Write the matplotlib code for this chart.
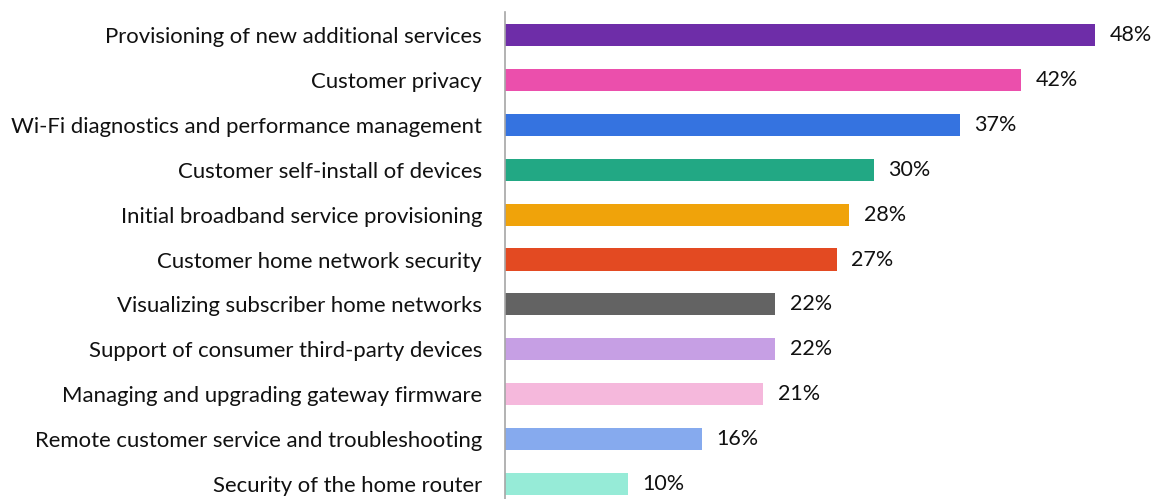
import matplotlib
matplotlib.use("Agg")
import matplotlib.pyplot as plt

categories = [
    "Provisioning of new additional services",
    "Customer privacy",
    "Wi-Fi diagnostics and performance management",
    "Customer self-install of devices",
    "Initial broadband service provisioning",
    "Customer home network security",
    "Visualizing subscriber home networks",
    "Support of consumer third-party devices",
    "Managing and upgrading gateway firmware",
    "Remote customer service and troubleshooting",
    "Security of the home router",
]
values = [48, 42, 37, 30, 28, 27, 22, 22, 21, 16, 10]
colors = [
    "#6E2DA8", "#EB4FAC", "#3573E0", "#22A884", "#F0A30A", "#E34A22",
    "#636363", "#C69FE4", "#F5B8DC", "#86AAEE", "#96EBD7",
]

plt.rcParams["font.family"] = ["Lato", "DejaVu Sans"]

W, H = 1153, 499
fig = plt.figure(figsize=(W / 100, H / 100), dpi=100)
ax = fig.add_axes([505 / W, 0.0, 639 / W, (H - 12) / H])

y = list(range(len(categories)))
ax.barh(y, values, height=0.49, color=colors)

for yi, v in zip(y, values):
    ax.annotate(f"{v}%", xy=(v, yi), xytext=(10.5, 0), textcoords="offset points",
                va="center", ha="left", fontsize=15.5, color="#111111")

ax.set_yticks(y)
ax.set_yticklabels(categories, fontsize=15.9, color="#111111")
ax.tick_params(axis="y", length=0, pad=16.5)
ax.set_xticks([])
ax.set_xlim(0, 52)
ax.set_ylim(10 + 15 / 44.9, -23 / 44.9)

for s in ("top", "right", "bottom"):
    ax.spines[s].set_visible(False)
ax.spines["left"].set_color("#A6A6A6")
ax.spines["left"].set_linewidth(1.2)

fig.savefig("out.png", dpi=100)
